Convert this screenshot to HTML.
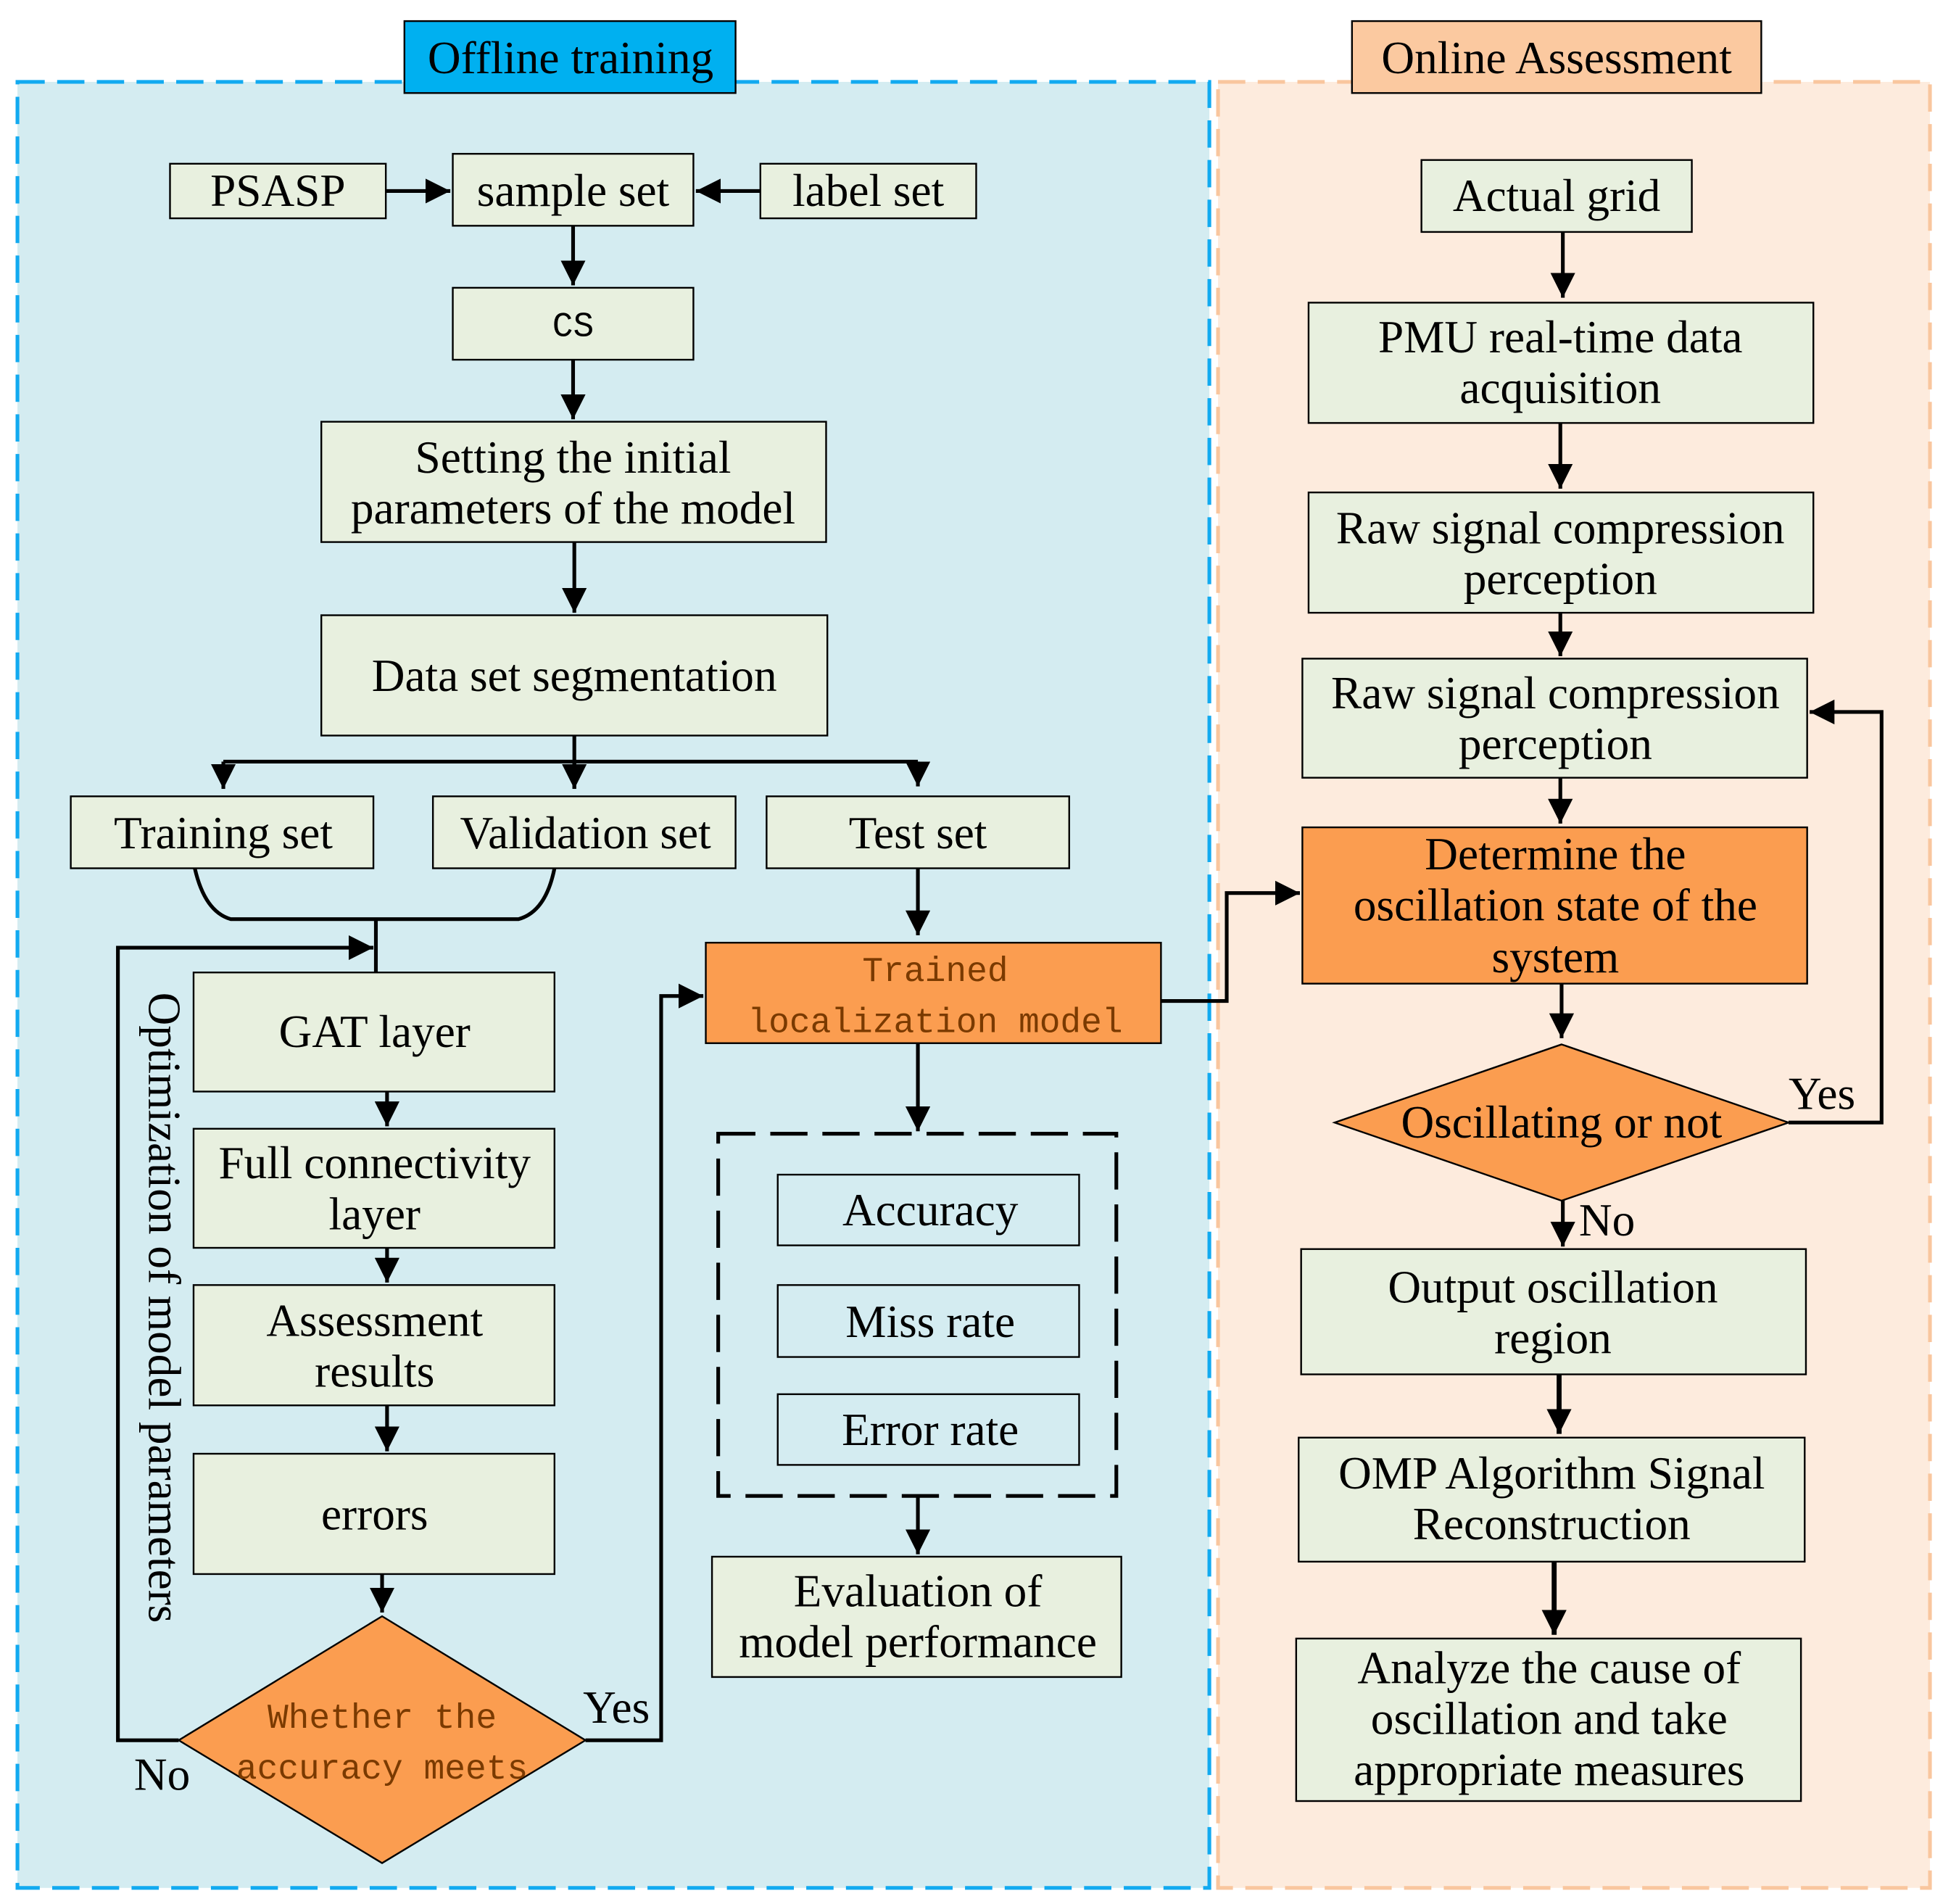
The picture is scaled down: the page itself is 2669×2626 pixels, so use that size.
<!DOCTYPE html>
<html><head><meta charset="utf-8"><style>
html,body{margin:0;padding:0;background:#fff}
svg{display:block}
text{font-family:"Liberation Serif",serif;font-size:37px;fill:#000}
.m{font-family:"Liberation Mono",monospace;font-size:28px;fill:#7a3a00}
.b{fill:#e8f0df;stroke:#000;stroke-width:1.4}
.o{fill:#fb9d50;stroke:#000;stroke-width:1.4}
.l{fill:none;stroke:#000;stroke-width:3}
</style></head><body>
<svg width="2669" height="2626" viewBox="0 0 1560 1535" xmlns="http://www.w3.org/2000/svg">
<defs>
<marker id="A" viewBox="0 0 10 10" refX="10" refY="5" markerWidth="20" markerHeight="20" orient="auto" markerUnits="userSpaceOnUse"><path d="M0,0L10,5L0,10z" fill="#000"/></marker></defs>
<rect width="1560" height="1535" fill="#fff"/>
<rect x="14" y="66" width="961" height="1456" fill="#d4ecf1" stroke="#12aaf0" stroke-width="3" stroke-dasharray="22,10"/>
<rect x="982" y="66" width="574" height="1456" fill="#fdebdd" stroke="#f9c69e" stroke-width="3" stroke-dasharray="22,10"/>
<rect x="326" y="17" width="267" height="58" fill="#00b0f0" stroke="#000" stroke-width="1.4"/>
<text x="460" y="59" text-anchor="middle">Offline training</text>
<rect x="1090" y="17" width="330" height="58" fill="#fbc9a0" stroke="#000" stroke-width="1.4"/>
<text x="1255" y="59" text-anchor="middle">Online Assessment</text>
<g text-anchor="middle">
<rect class="b" x="137" y="132" width="174" height="44"/><text x="224" y="166">PSASP</text>
<rect class="b" x="365" y="124" width="194" height="58"/><text x="462" y="166">sample set</text>
<rect class="b" x="613" y="132" width="174" height="44"/><text x="700" y="166">label set</text>
<rect class="b" x="365" y="232" width="194" height="58"/><text x="462" y="271" class="m" style="fill:#000">CS</text>
<rect class="b" x="259" y="340" width="407" height="97"/><text x="462" y="381">Setting the initial</text><text x="462" y="422">parameters of the model</text>
<rect class="b" x="259" y="496" width="408" height="97"/><text x="463" y="557">Data set segmentation</text>
<rect class="b" x="57" y="642" width="244" height="58"/><text x="180" y="684">Training set</text>
<rect class="b" x="349" y="642" width="244" height="58"/><text x="472" y="684">Validation set</text>
<rect class="b" x="618" y="642" width="244" height="58"/><text x="740" y="684">Test set</text>
<rect class="b" x="156" y="784" width="291" height="96"/><text x="302" y="844">GAT layer</text>
<rect class="b" x="156" y="910" width="291" height="96"/><text x="302" y="950">Full connectivity</text><text x="302" y="991">layer</text>
<rect class="b" x="156" y="1036" width="291" height="97"/><text x="302" y="1077">Assessment</text><text x="302" y="1118">results</text>
<rect class="b" x="156" y="1172" width="291" height="97"/><text x="302" y="1233">errors</text>
<polygon class="o" points="308,1303 472,1403 308,1502 144,1403"/>
<text x="308" y="1393" class="m">Whether the</text><text x="308" y="1434" class="m">accuracy meets</text>
<rect class="o" x="569" y="760" width="367" height="81"/>
<text x="754" y="791" class="m">Trained</text><text x="754" y="832" class="m">localization model</text>
<rect x="579" y="914" width="321" height="292" fill="none" stroke="#000" stroke-width="3" stroke-dasharray="30,12"/>
<rect x="627" y="947" width="243" height="57" fill="#d4ecf1" stroke="#000" stroke-width="1.4"/><text x="750" y="988">Accuracy</text>
<rect x="627" y="1036" width="243" height="58" fill="#d4ecf1" stroke="#000" stroke-width="1.4"/><text x="750" y="1078">Miss rate</text>
<rect x="627" y="1124" width="243" height="57" fill="#d4ecf1" stroke="#000" stroke-width="1.4"/><text x="750" y="1165">Error rate</text>
<rect class="b" x="574" y="1255" width="330" height="97"/><text x="740" y="1295">Evaluation of</text><text x="740" y="1336">model performance</text>
<rect class="b" x="1146" y="129" width="218" height="58"/><text x="1255" y="170">Actual grid</text>
<rect class="b" x="1055" y="244" width="407" height="97"/><text x="1258" y="284">PMU real-time data</text><text x="1258" y="325">acquisition</text>
<rect class="b" x="1055" y="397" width="407" height="97"/><text x="1258" y="438">Raw signal compression</text><text x="1258" y="479">perception</text>
<rect class="b" x="1050" y="531" width="407" height="96"/><text x="1254" y="571">Raw signal compression</text><text x="1254" y="612">perception</text>
<rect class="o" x="1050" y="667" width="407" height="126"/><text x="1254" y="701">Determine the</text><text x="1254" y="742">oscillation state of the</text><text x="1254" y="784">system</text>
<polygon class="o" points="1259,842 1442,905 1259,968 1076,905"/><text x="1259" y="917">Oscillating or not</text>
<rect class="b" x="1049" y="1007" width="407" height="101"/><text x="1252" y="1050">Output oscillation</text><text x="1252" y="1091">region</text>
<rect class="b" x="1047" y="1159" width="408" height="100"/><text x="1251" y="1200">OMP Algorithm Signal</text><text x="1251" y="1241">Reconstruction</text>
<rect class="b" x="1045" y="1321" width="407" height="131"/><text x="1249" y="1357">Analyze the cause of</text><text x="1249" y="1398">oscillation and take</text><text x="1249" y="1439">appropriate measures</text>
</g>
<g class="l">
<path d="M311,154H363" marker-end="url(#A)"/>
<path d="M613,154H561" marker-end="url(#A)"/>
<path d="M462,182V230" marker-end="url(#A)"/>
<path d="M462,290V338" marker-end="url(#A)"/>
<path d="M463,437V494" marker-end="url(#A)"/>
<path d="M463,593V636"/><path d="M180,614H740"/>
<path d="M180,614V636" marker-end="url(#A)"/>
<path d="M463,614V636" marker-end="url(#A)"/>
<path d="M740,614V634" marker-end="url(#A)"/>
<path d="M157,700Q165,735 186,741H418Q440,735 447,700"/>
<path d="M303,741V784"/>
<path d="M144,1403H95V764H301" marker-end="url(#A)"/>
<path d="M312,880V908" marker-end="url(#A)"/>
<path d="M312,1006V1034" marker-end="url(#A)"/>
<path d="M312,1133V1170" marker-end="url(#A)"/>
<path d="M308,1269V1300" marker-end="url(#A)"/>
<path d="M472,1403H533V803H567" marker-end="url(#A)"/>
<path d="M740,700V754" marker-end="url(#A)"/>
<path d="M740,841V912" marker-end="url(#A)"/>
<path d="M740,1206V1253" marker-end="url(#A)"/>
<path d="M936,807H989V720H1048" marker-end="url(#A)"/>
<path d="M1260,187V240" marker-end="url(#A)"/>
<path d="M1258,341V394" marker-end="url(#A)"/>
<path d="M1258,494V529" marker-end="url(#A)"/>
<path d="M1258,627V664" marker-end="url(#A)"/>
<path d="M1259,793V837" marker-end="url(#A)"/>
<path d="M1442,905H1517V574H1459" marker-end="url(#A)"/>
<path d="M1260,968V1005" marker-end="url(#A)"/>
<path d="M1257,1108V1156" stroke-width="4" marker-end="url(#A)"/>
<path d="M1253,1259V1318" stroke-width="4" marker-end="url(#A)"/>
</g>
<text x="470" y="1389">Yes</text>
<text x="108" y="1443">No</text>
<text x="1442" y="894">Yes</text>
<text x="1273" y="996">No</text>
<text transform="translate(120,800) rotate(90)">Optimization of model parameters</text>
</svg>
</body></html>
